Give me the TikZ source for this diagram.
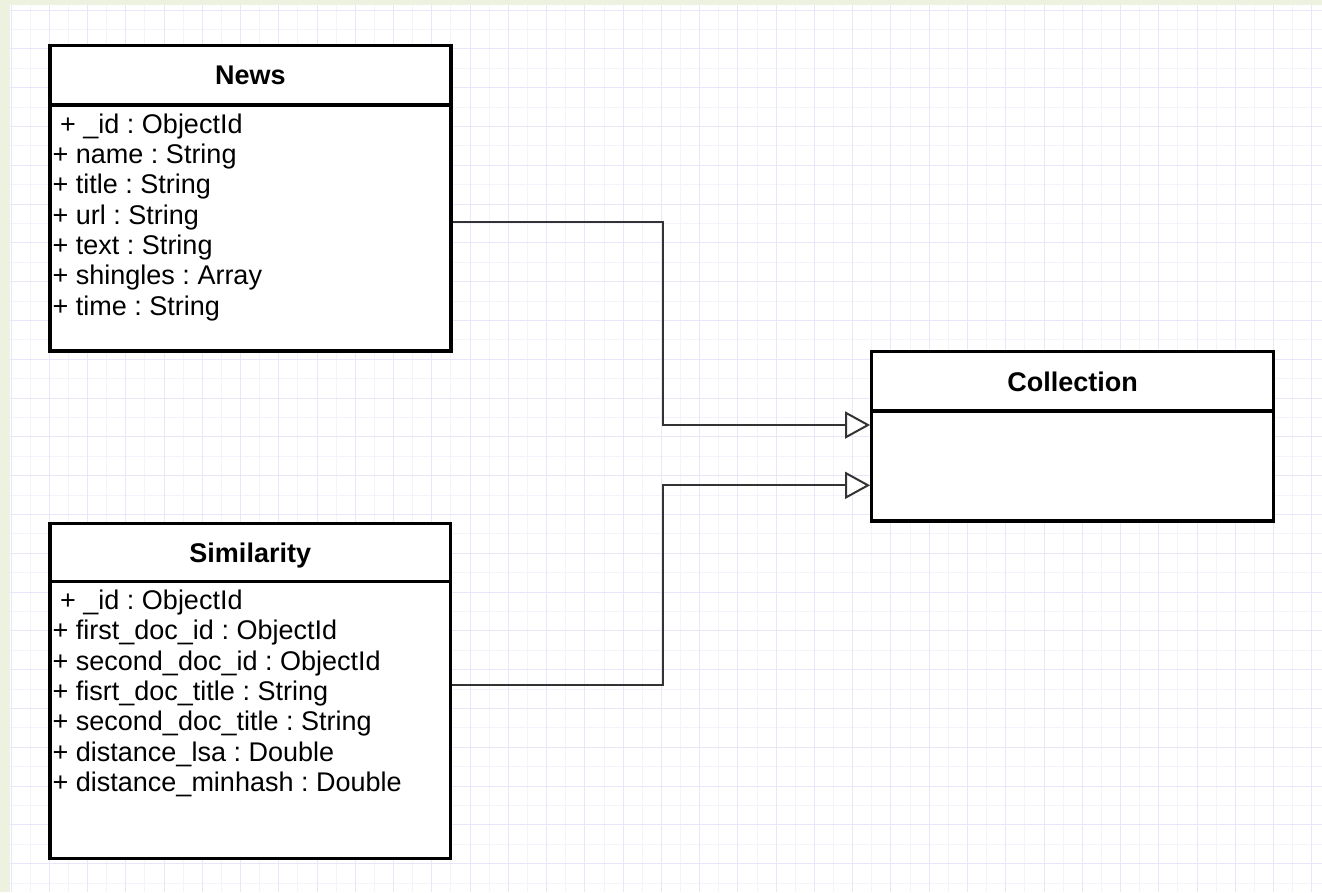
\documentclass[tikz,border=0pt]{standalone}
\usepackage{fontspec}
\setmainfont{Liberation Sans}
\usetikzlibrary{arrows.meta,positioning}
\definecolor{pagetint}{HTML}{EDF1DF}
\definecolor{gridminor}{HTML}{F3F3FC}
\definecolor{gridmajor}{HTML}{E7E7F9}
\definecolor{linkgray}{HTML}{333333}
\frenchspacing
\begin{document}
\begin{tikzpicture}[x=1pt,y=-1pt,
	classhead/.style={draw=black,fill=white,line width=3.2pt,outer sep=0pt,inner sep=0pt,
		font=\fontsize{27}{32}\selectfont\bfseries,text depth=0pt},
	classbody/.style={draw=black,fill=white,line width=3.2pt,outer sep=0pt,inner sep=0pt},
	attr/.style={anchor=base west,inner sep=0pt,font=\fontsize{27}{32}\selectfont},
	link/.style={draw=linkgray,line width=2pt,shorten <=1.6pt,shorten >=1.6pt,
		-{Triangle[length=25pt,width=27pt,fill=white]}}]
		\useasboundingbox (0,0) rectangle (1322,892);
		% page and grid
		\fill[pagetint] (0,0) rectangle (1322,892);
		\fill[white] (10,5) rectangle (1322,892);
		\foreach \k in {0,...,68} \draw[gridminor,line width=1pt] ({11+19.13*\k},5) -- ({11+19.13*\k},892);
		\foreach \k in {0,...,45} \draw[gridminor,line width=1pt] (10,{10+19.4*\k}) -- (1322,{10+19.4*\k});
		\foreach \k in {0,2,...,68} \draw[gridmajor,line width=1pt] ({11+19.13*\k},5) -- ({11+19.13*\k},892);
		\foreach \k in {0,2,...,44} \draw[gridmajor,line width=1pt] (10,{10+19.4*\k}) -- (1322,{10+19.4*\k});
		% classes
		\node[classhead,minimum width=401pt,minimum height=59.3pt] (newshead) at (250.5,75.35) {News};
		\node[classbody,minimum width=401pt,minimum height=246pt,below=0pt of newshead] (newsbody) {};
		\node[classhead,minimum width=400.5pt,minimum height=58.4pt] (simhead) at (250.25,552.5) {Similarity};
		\node[classbody,minimum width=400.5pt,minimum height=276.6pt,below=0pt of simhead] (simbody) {};
		\node[classhead,minimum width=402pt,minimum height=59.3pt] (collhead) at (1072.7,381.35) {Collection};
		\node[classbody,minimum width=402pt,minimum height=110pt,below=0pt of collhead] (collbody) {};
		% attributes
		\node[attr] (news-id) at (52.5,133.3) {\ + \_id : ObjectId};
		\node[attr] (news-name) at (52.5,163.6) {+ name : String};
		\node[attr] (news-title) at (52.5,193.9) {+ title : String};
		\node[attr] (news-url) at (52.5,224.2) {+ url : String};
		\node[attr] (news-text) at (52.5,254.5) {+ text : String};
		\node[attr] (news-shingles) at (52.5,284.8) {+ shingles : Array};
		\node[attr] (news-time) at (52.5,315.1) {+ time : String};
		\node[attr] (sim-id) at (52.5,609.3) {\ + \_id : ObjectId};
		\node[attr] (sim-firstid) at (52.5,639.7) {+ first\_doc\_id : ObjectId};
		\node[attr] (sim-secondid) at (52.5,670.1) {+ second\_doc\_id : ObjectId};
		\node[attr] (sim-firsttitle) at (52.5,700.5) {+ fisrt\_doc\_title : String};
		\node[attr] (sim-secondtitle) at (52.5,730.9) {+ second\_doc\_title : String};
		\node[attr] (sim-lsa) at (52.5,761.3) {+ distance\_lsa : Double};
		\node[attr] (sim-minhash) at (52.5,791.7) {+ distance\_minhash : Double};
		% generalisation links
		\coordinate (bendA) at (663.3,221.7);
		\coordinate (bendB) at (663.3,425);
		\coordinate (bendC) at (662.7,685);
		\coordinate (bendD) at (662.7,485.3);
		\draw[link] (newsbody.east |- bendA) -- (bendA) -- (bendB) -- (collbody.west |- bendB);
		\draw[link] (simbody.east |- bendC) -- (bendC) -- (bendD) -- (collbody.west |- bendD);
	\end{tikzpicture}
\end{document}
